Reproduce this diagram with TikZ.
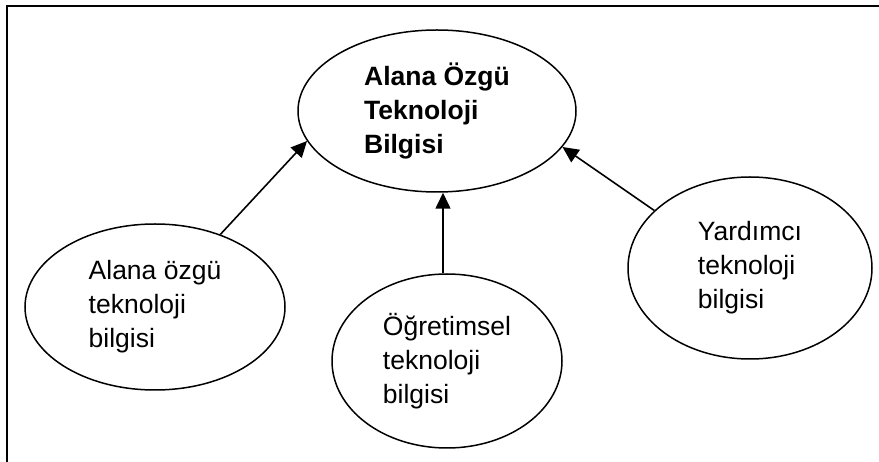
\documentclass[tikz,border=0pt]{standalone}
\usepackage{fontspec}
\setmainfont{Liberation Sans}
\usetikzlibrary{shapes.geometric,arrows.meta}
\begin{document}
\begin{tikzpicture}[x=1pt,y=-1pt,
  bubble/.style={draw=black, line width=1.5pt, ellipse, inner sep=0pt, align=left,
    font=\fontsize{26.5}{34}\selectfont},
  link/.style={line width=1.6pt, -{Triangle[length=16pt,width=15pt]}},
  frame/.style={line width=1.3pt}]
\useasboundingbox (0,0) rectangle (879,462);
\draw[frame] (7,462) -- (7,6) -- (879,6);
\node[bubble, minimum width=278pt, minimum height=162pt, font=\fontsize{26.5}{34}\selectfont\bfseries]
  (cen) at (437,111) {Alana Özgü\\Teknoloji\\Bilgisi};
\node[bubble, minimum width=260pt, minimum height=166pt] (lft) at (155,307)
  {Alana özgü\\teknoloji\\bilgisi};
\node[bubble, minimum width=230pt, minimum height=174pt] (mid) at (447,361)
  {Öğretimsel\\teknoloji\\bilgisi};
\node[bubble, minimum width=244pt, minimum height=182pt] (rgt) at (750,268)
  {Yardımcı\\teknoloji\\bilgisi};
\draw[link] (lft.48) -- (cen.193.8);
\draw[link] (mid.north -| 443,0) -- (cen.south -| 443,0);
\draw[link] (rgt.149) -- (cen.344);
\end{tikzpicture}
\end{document}
